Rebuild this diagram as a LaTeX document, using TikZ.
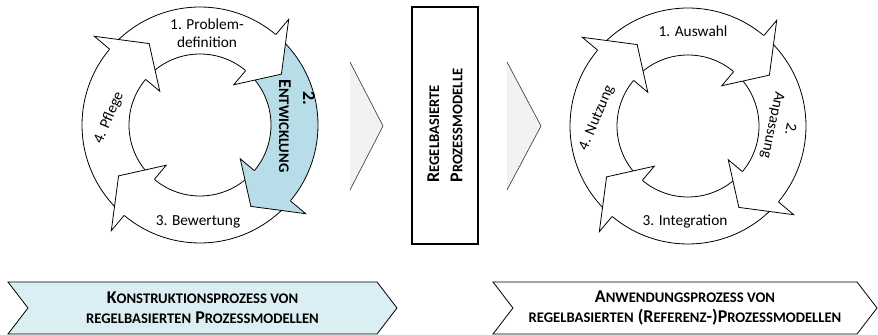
\documentclass[tikz,border=0pt]{standalone}
\usepackage{fontspec}
\setmainfont{Carlito}
\usepackage{tikz}
\usetikzlibrary{shapes.symbols}
\usepackage{xcolor}
\definecolor{entwBlau}{HTML}{B7DDE8}
\definecolor{konstrBlau}{HTML}{DAEEF3}
\definecolor{pfeilGrau}{HTML}{F2F2F2}
\newcommand{\kl}[1]{{\fontsize{11}{12}\selectfont #1}}

\begin{document}
\begin{tikzpicture}[x=0.75pt, y=0.75pt, font=\fontsize{11.5}{13.5}\selectfont,
    ring/.style={line width=0.6pt},
    phase/.style={signal, signal from=west, signal to=east, signal pointer angle=105, draw, line width=0.6pt, minimum height=39pt, inner sep=0pt, align=center, font=\bfseries\fontsize{13.5}{15}\selectfont},
    weiter/.style={fill=pfeilGrau, draw=black!75, line width=0.5pt}]
  \useasboundingbox (0,0) rectangle (878,335);

  % beide Zyklen: erst die Ringstuecke, dann die Spitzen darueber
  \foreach \cx/\cy/\bl in {200/210/entwBlau, 688/209/white} {
    \begin{scope}[shift={(\cx,\cy)}]
      \foreach \h/\fc in {50/white, -40/\bl, -130/white, 140/white} {
        \fill[\fc] (\h+85:118) arc[start angle=\h+85, end angle=\h, radius=118] -- (\h:71) arc[start angle=\h, end angle=\h+85, radius=71] -- cycle;
        \draw[ring] (\h+85:118) arc[start angle=\h+85, end angle=\h, radius=118];
        \draw[ring] (\h:71) arc[start angle=\h, end angle=\h+85, radius=71];
      }
      \foreach \h/\fc in {50/white, -40/\bl, -130/white, 140/white}
        \filldraw[ring, fill=\fc, line join=miter] (\h:118) -- (\h:138) -- (\h-18:96) -- (\h:52.5) -- (\h:71);
    \end{scope}
  }

  % linker Zyklus
  \node[align=center] (prob) at (207,302) {1. Problem-\\definition};
  \node[rotate=-90, align=left, font=\bfseries\fontsize{13.5}{18}\selectfont] (entw) at (297,209) {\hspace*{9pt}2.\\E\kl{NTWICKLUNG}};
  \node (bew) at (198,113) {3. Bewertung};
  \node[rotate=67] (pfl) at (109,217) {4. Pflege};

  % rechter Zyklus
  \node (ausw) at (693,304) {1. Auswahl};
  \node[rotate=-102, align=center] (anp) at (781,208) {2.\\Anpassung};
  \node (integ) at (685,113) {3. Integration};
  \node[rotate=67] (nutz) at (597,217) {4. Nutzung};

  % Mitte
  \filldraw[weiter] (350,273) -- (383,209) -- (350,145);
  \filldraw[weiter] (507,273) -- (541,209) -- (507,145);
  \node[draw, line width=1.1pt, rotate=90, minimum width=177.75pt, minimum height=49.5pt, align=left, font=\bfseries\fontsize{13.5}{17.5}\selectfont] (modell) at (445,209.5) {R\kl{EGELBASIERTE}\\P\kl{ROZESSMODELLE}};

  % Phasen unten
  \node[phase, fill=konstrBlau, minimum width=291.75pt] (konstr) at (202.5,27) {K\kl{ONSTRUKTIONSPROZESS VON}\\\kl{REGELBASIERTEN} P\kl{ROZESSMODELLEN}};
  \node[phase, fill=white, minimum width=288pt] (anw) at (685,27) {A\kl{NWENDUNGSPROZESS VON}\\\kl{REGELBASIERTEN} (R\kl{EFERENZ}-)P\kl{ROZESSMODELLEN}};
\end{tikzpicture}
\end{document}
